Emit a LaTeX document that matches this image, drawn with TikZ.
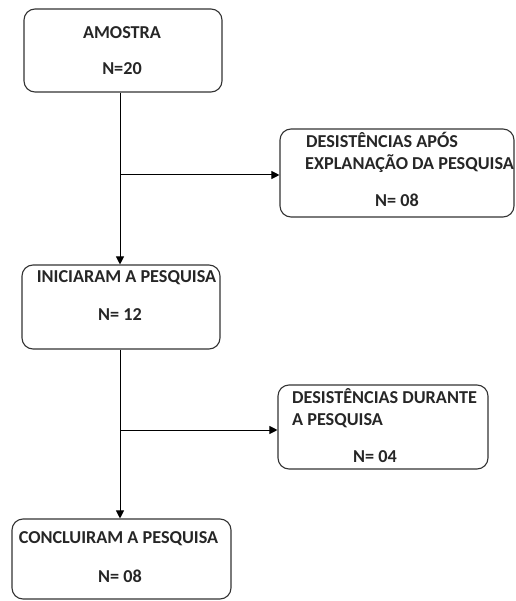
\documentclass[tikz,border=0pt]{standalone}
\usepackage{fontspec}
\setmainfont{Carlito}
\usetikzlibrary{arrows.meta}
\begin{document}
\begin{tikzpicture}[x=1pt,y=-1pt,
  box/.style={draw=black!80,line width=1.1pt,rounded corners=11pt,inner sep=0pt},
  lbl/.style={anchor=base,inner sep=0pt,font=\fontsize{18.2}{21}\selectfont\bfseries,text=black!85},
  lbll/.style={lbl,anchor=base west},
  conn/.style={draw=black,line width=1pt},
  arr/.style={conn,-{Triangle[length=8pt,width=8pt]}}]
\useasboundingbox (0,0) rectangle (515,601);
\node[box,minimum width=198pt,minimum height=83pt] (b1) at (123,50.5) {};
\node[box,minimum width=234pt,minimum height=88pt] (d1) at (397,173) {};
\node[box,minimum width=198pt,minimum height=84pt] (b2) at (121,307) {};
\node[box,minimum width=210pt,minimum height=84pt] (d2) at (383,427) {};
\node[box,minimum width=219pt,minimum height=80pt] (b3) at (121.5,559) {};
% texts
\node[lbl] (t1a) at (122,39) {AMOSTRA};
\node[lbl] (t1b) at (122,75) {N=20};
\node[lbll] (t2a) at (306,148) {DESISTÊNCIAS APÓS};
\node[lbll] (t2b) at (305,170) {EXPLANAÇÃO DA PESQUISA};
\node[lbl] (t2c) at (397,207) {N= 08};
\node[lbl] (t3a) at (126.5,282) {INICIARAM A PESQUISA};
\node[lbl] (t3b) at (120,320) {N= 12};
\node[lbll] (t4a) at (292,403) {DESISTÊNCIAS DURANTE};
\node[lbll] (t4b) at (292,425) {A PESQUISA};
\node[lbl] (t4c) at (375,462) {N= 04};
\node[lbl] (t5a) at (118.5,543) {CONCLUIRAM A PESQUISA};
\node[lbl] (t5b) at (120,582) {N= 08};
% connectors
\coordinate (j1) at (120,175);
\coordinate (j2) at (120,430);
\draw[arr] (b1.south -| j1) -- (b2.north -| j1);
\draw[arr] (j1) -- (j1 -| d1.west);
\draw[arr] (b2.south -| j2) -- (b3.north -| j2);
\draw[arr] (j2) -- (j2 -| d2.west);
\end{tikzpicture}
\end{document}
